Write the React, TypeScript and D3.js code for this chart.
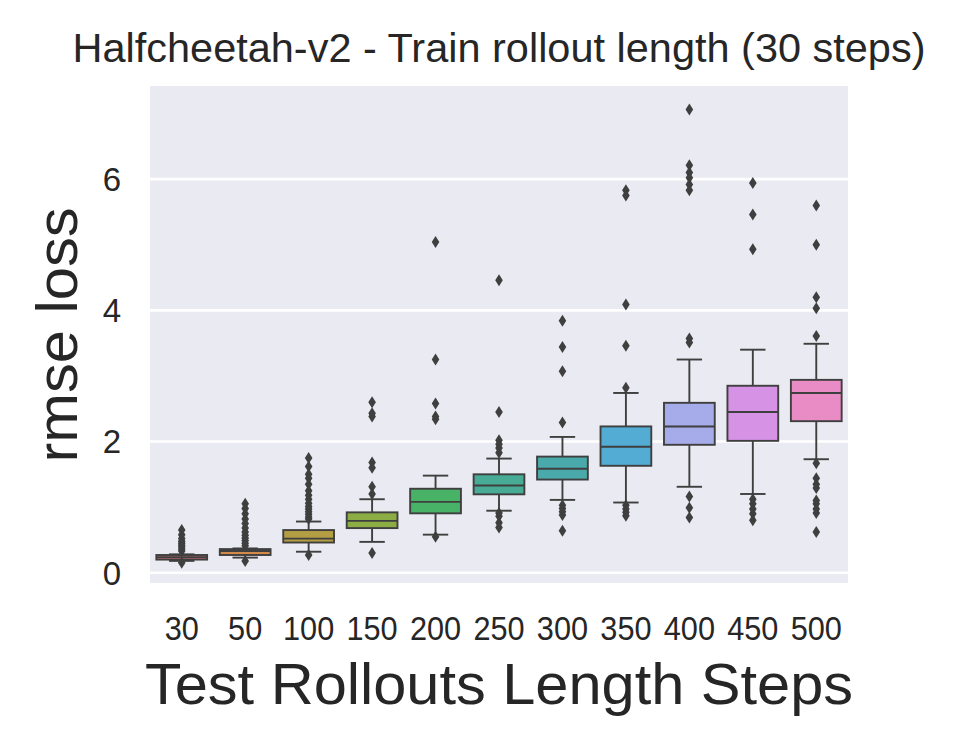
import React from 'react';
import * as d3 from 'd3';

const categories = ['30', '50', '100', '150', '200', '250', '300', '350', '400', '450', '500'];
const q1s = [0.2, 0.27, 0.46, 0.68, 0.905, 1.195, 1.42, 1.63, 1.95, 2.01, 2.31];
const medians = [0.235, 0.33, 0.52, 0.79, 1.08, 1.33, 1.585, 1.92, 2.23, 2.45, 2.74];
const q3s = [0.27, 0.36, 0.65, 0.92, 1.28, 1.5, 1.77, 2.23, 2.59, 2.85, 2.94];
const whiskLow = [0.18, 0.23, 0.32, 0.47, 0.58, 0.945, 1.11, 1.07, 1.31, 1.2, 1.73];
const whiskHigh = [0.28, 0.37, 0.78, 1.12, 1.48, 1.74, 2.07, 2.74, 3.25, 3.4, 3.49];
const outliers = [
  [0.65, 0.58, 0.52, 0.48, 0.45, 0.42, 0.39, 0.36, 0.33, 0.15],
  [1.05, 0.98, 0.9, 0.82, 0.75, 0.68, 0.62, 0.57, 0.53, 0.49, 0.45, 0.41, 0.18],
  [1.75, 1.62, 1.5, 1.44, 1.35, 1.25, 1.18, 1.12, 1.06, 1.01, 0.97, 0.93, 0.89, 0.85, 0.82, 0.27],
  [2.6, 2.43, 2.38, 1.68, 1.6, 1.31, 1.2, 0.3],
  [5.04, 3.25, 2.58, 2.38, 2.34, 0.55],
  [4.46, 2.45, 2.02, 1.96, 1.9, 1.83, 0.91, 0.86, 0.76, 0.69],
  [3.84, 3.44, 3.07, 2.29, 1.03, 0.98, 0.93, 0.88, 0.64],
  [5.83, 5.75, 4.09, 3.46, 2.82, 1.03, 0.97, 0.92, 0.87],
  [7.06, 6.21, 6.1, 6.02, 5.92, 5.83, 3.57, 3.51, 1.16, 0.99, 0.84],
  [5.94, 5.46, 4.93, 1.12, 1.05, 0.97, 0.9, 0.8],
  [5.6, 5.0, 4.2, 4.03, 3.61, 1.67, 1.44, 1.35, 1.29, 1.1, 1.05, 0.97, 0.91, 0.62],
];
const colors = ['#e47580', '#d18a48', '#b39e44', '#8cac44', '#48b266', '#48ab95', '#4aa9aa', '#52acd3', '#a6abe9', '#d693e6', '#e98cc6'];
const yTicks = [0, 2, 4, 6];

const W = 956;
const H = 748;
const plot = { left: 150, right: 848, top: 86, bottom: 583 };
const font = "'Liberation Sans', Arial, sans-serif";
const ink = '#3f3f3f';
const textColor = '#262626';

export default function App() {
  const x = d3.scaleBand().domain(categories).range([plot.left, plot.right]).padding(0);
  const y = d3.scaleLinear().domain([-0.157, 7.42]).range([plot.bottom, plot.top]);
  const bw = x.bandwidth() * 0.8;
  const diamond = (cx: number, cy: number) =>
    `M${cx},${cy - 6}L${cx + 3.8},${cy}L${cx},${cy + 6}L${cx - 3.8},${cy}Z`;

  return (
    <svg width={W} height={H} style={{ position: 'absolute', left: 0, top: 0, background: '#fff' }}>
      <rect x={plot.left} y={plot.top} width={plot.right - plot.left} height={plot.bottom - plot.top} fill="#eaeaf2" />
      {yTicks.map(t => (
        <g key={t}>
          <line x1={plot.left} x2={plot.right} y1={y(t)} y2={y(t)} stroke="#fff" strokeWidth={2.6} />
          <text x={121} y={y(t)} dy="0.36em" textAnchor="end" fontFamily={font} fontSize={33} fill={textColor}>{t}</text>
        </g>
      ))}
      {categories.map((c, i) => {
        const cx = (x(c) as number) + x.bandwidth() / 2;
        return (
          <g key={c}>
            <line x1={cx} x2={cx} y1={y(q1s[i])} y2={y(whiskLow[i])} stroke={ink} strokeWidth={1.9} />
            <line x1={cx} x2={cx} y1={y(q3s[i])} y2={y(whiskHigh[i])} stroke={ink} strokeWidth={1.9} />
            <line x1={cx - bw / 4} x2={cx + bw / 4} y1={y(whiskLow[i])} y2={y(whiskLow[i])} stroke={ink} strokeWidth={1.9} />
            <line x1={cx - bw / 4} x2={cx + bw / 4} y1={y(whiskHigh[i])} y2={y(whiskHigh[i])} stroke={ink} strokeWidth={1.9} />
            <rect x={cx - bw / 2} y={y(q3s[i])} width={bw} height={y(q1s[i]) - y(q3s[i])} fill={colors[i]} stroke={ink} strokeWidth={1.9} />
            <line x1={cx - bw / 2} x2={cx + bw / 2} y1={y(medians[i])} y2={y(medians[i])} stroke={ink} strokeWidth={1.9} />
            {outliers[i].map((v, j) => (
              <path key={j} d={diamond(cx, y(v))} fill={ink} />
            ))}
            <text x={cx} y={640} textAnchor="middle" fontFamily={font} fontSize={33} fill={textColor}
              textLength={c.length * 0.556 * 33 * 0.93} lengthAdjust="spacingAndGlyphs">{c}</text>
          </g>
        );
      })}
      <text x={(plot.left + plot.right) / 2} y={62} textAnchor="middle" fontFamily={font} fontSize={41.5} fill={textColor}
        textLength={853} lengthAdjust="spacingAndGlyphs">Halfcheetah-v2 - Train rollout length (30 steps)</text>
      <text x={(plot.left + plot.right) / 2} y={704} textAnchor="middle" fontFamily={font} fontSize={58} fill={textColor}
        textLength={708} lengthAdjust="spacingAndGlyphs">Test Rollouts Length Steps</text>
      <text transform={`translate(77,335) rotate(-90)`} textAnchor="middle" fontFamily={font} fontSize={58} fill={textColor}
        textLength={255} lengthAdjust="spacingAndGlyphs">rmse loss</text>
    </svg>
  );
}
